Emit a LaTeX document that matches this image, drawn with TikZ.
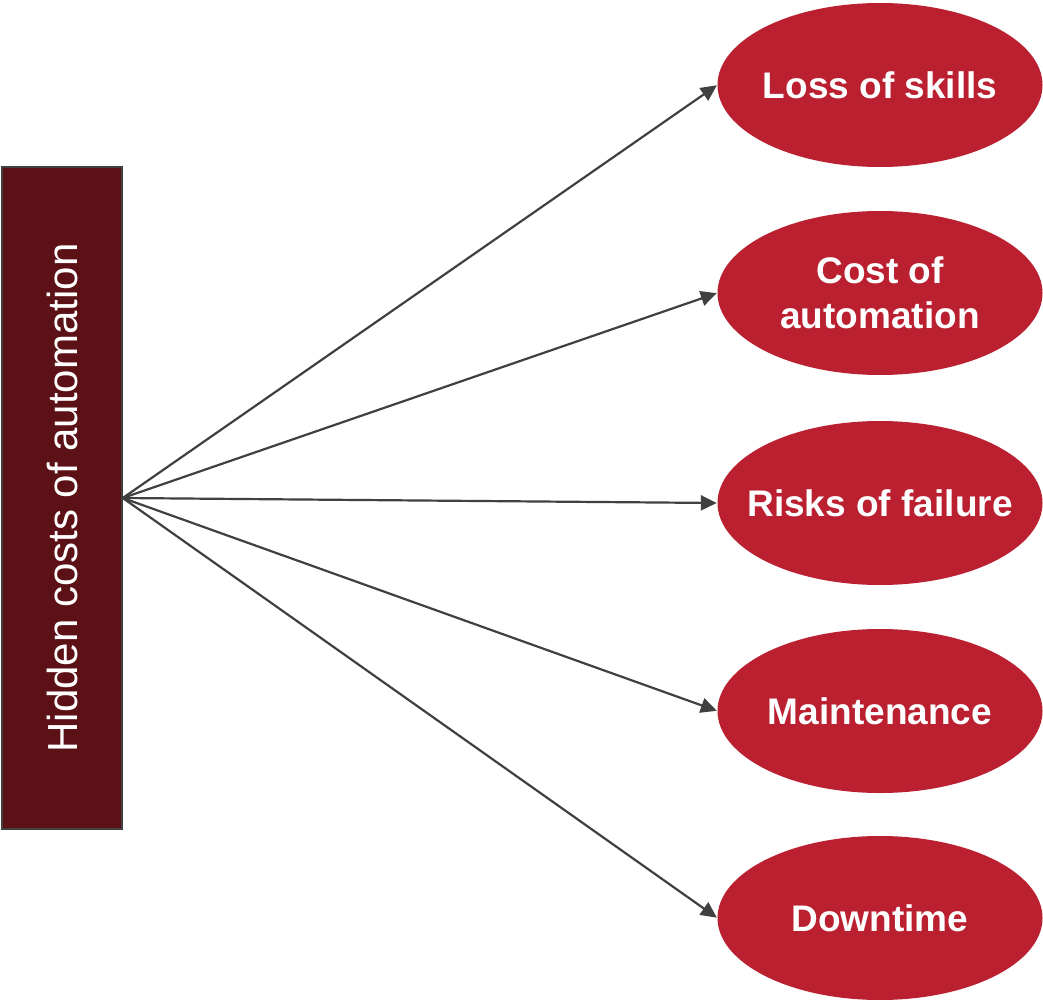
\documentclass[tikz,border=0pt]{standalone}
\usepackage{fontspec}
\setmainfont{Liberation Sans}
\usetikzlibrary{shapes.geometric,arrows.meta}
\definecolor{boxred}{HTML}{5C1116}
\definecolor{ovalred}{HTML}{BA2030}
\definecolor{linegray}{HTML}{404040}
\tikzset{
  mainbox/.style={draw=linegray, line width=1.5pt, fill=boxred, minimum width=120pt, minimum height=662pt, inner sep=0pt},
  oval/.style={ellipse, fill=ovalred, minimum width=325pt, minimum height=164pt, inner sep=0pt},
  ovaltext/.style={text=white, font=\fontsize{37}{45}\selectfont\bfseries, align=center, inner sep=0pt},
  link/.style={draw=linegray, line width=2.2pt, -{Triangle[length=16pt,width=15pt]}, shorten >=0.5pt}
}
\begin{document}
\begin{tikzpicture}[x=1pt,y=-1pt]
\useasboundingbox (0,0) rectangle (1043,1000);
\node[mainbox] (box) at (62,498) {};
\node[rotate=90, text=white, font=\fontsize{42}{50}\selectfont, inner sep=0pt] (label) at (62.5,498) {Hidden costs of automation};
\coordinate (src) at (box.east);
\node[oval] (o1) at (880,85) {};
\node[oval] (o2) at (880,293) {};
\node[oval] (o3) at (880,503) {};
\node[oval] (o4) at (880,711) {};
\node[oval] (o5) at (880,918) {};
\node[ovaltext] (t1) at (o1) {Loss of skills};
\node[ovaltext] (t2) at (o2) {Cost of\\automation};
\node[ovaltext] (t3) at (o3) {Risks of failure};
\node[ovaltext] (t4) at (o4) {Maintenance};
\node[ovaltext] (t5) at (o5) {Downtime};
\foreach \n in {o1,o2,o3,o4,o5}
  \draw[link] (src) -- (\n.west);
\end{tikzpicture}
\end{document}
